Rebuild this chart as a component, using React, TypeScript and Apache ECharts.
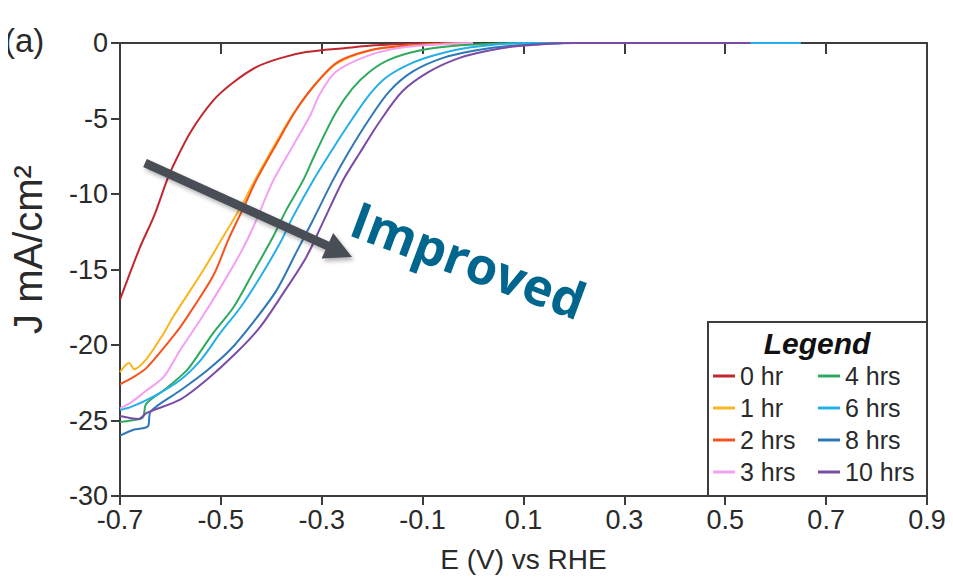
import React, { useEffect, useRef } from "react";
import * as echarts from "echarts";

const seriesNames = ["0 hr", "1 hr", "2 hrs", "3 hrs", "4 hrs", "6 hrs", "8 hrs", "10 hrs"];
const seriesColors = ["#c1272d", "#f9b51e", "#f4541f", "#f4a0f2", "#2eaa5e", "#25aee8", "#2f78b8", "#7a4ca5"];

const xTickMin = -0.7;
const xTickMax = 0.9;
const xTickStep = 0.2;
const yTickMin = -30;
const yTickMax = 0;
const yTickStep = 5;

const e0hr = [-0.70, -0.66, -0.633, -0.607, -0.597, -0.56, -0.515, -0.475, -0.43, -0.382, -0.331, -0.252, -0.193, -0.12, -0.05];
const j0hr = [-17.0, -13.5, -11.5, -9.1, -8.3, -5.9, -3.8, -2.6, -1.6, -1.0, -0.6, -0.33, -0.15, -0.05, 0];

const e1hr = [-0.70, -0.682, -0.672, -0.647, -0.613, -0.594, -0.534, -0.495, -0.461, -0.436, -0.396, -0.357, -0.317, -0.272, -0.205, -0.14, -0.06, 0.0];
const j1hr = [-21.8, -21.2, -21.6, -20.9, -19.2, -18.1, -15.0, -12.8, -10.9, -9.3, -6.9, -4.7, -2.9, -1.4, -0.5, -0.2, -0.05, 0];

const e2hrs = [-0.70, -0.672, -0.647, -0.594, -0.574, -0.515, -0.485, -0.455, -0.43, -0.39, -0.352, -0.312, -0.268, -0.2, -0.135, -0.06, 0.0];
const j2hrs = [-22.6, -22.1, -21.5, -19.4, -18.5, -15.4, -13.0, -10.9, -9.1, -6.7, -4.5, -2.7, -1.25, -0.45, -0.18, -0.05, 0];

const e3hrs = [-0.70, -0.678, -0.647, -0.613, -0.58, -0.54, -0.501, -0.461, -0.436, -0.396, -0.357, -0.323, -0.304, -0.272, -0.205, -0.14, -0.06, 0.0];
const j3hrs = [-24.2, -23.8, -23.0, -22.1, -20.3, -18.3, -16.2, -13.9, -12.2, -9.1, -6.8, -4.8, -3.4, -1.9, -0.8, -0.3, -0.08, 0];

const e4hrs = [-0.70, -0.678, -0.655, -0.648, -0.613, -0.568, -0.548, -0.515, -0.475, -0.436, -0.396, -0.371, -0.337, -0.311, -0.272, -0.239, -0.205, -0.166, -0.106, -0.041, 0.04, 0.13];
const j4hrs = [-25.1, -25.0, -24.8, -23.9, -23.0, -21.7, -20.8, -19.2, -17.5, -15.2, -12.8, -11.1, -9.1, -7.2, -4.6, -3.0, -1.9, -1.1, -0.5, -0.2, -0.05, 0];

const e6hrs = [-0.70, -0.678, -0.633, -0.58, -0.54, -0.501, -0.461, -0.422, -0.382, -0.357, -0.317, -0.278, -0.239, -0.205, -0.173, -0.126, -0.075, -0.008, 0.1, 0.3, 0.5, 0.65];
const j6hrs = [-24.3, -24.1, -23.4, -22.3, -21.0, -19.2, -17.5, -15.5, -13.2, -11.5, -9.1, -7.0, -5.0, -3.4, -2.3, -1.4, -0.8, -0.3, 0, 0, 0, 0];

const e8hrs = [-0.70, -0.672, -0.645, -0.639, -0.58, -0.528, -0.481, -0.436, -0.39, -0.351, -0.317, -0.278, -0.248, -0.205, -0.166, -0.12, -0.061, 0.004, 0.071, 0.18];
const j8hrs = [-26.0, -25.6, -25.4, -24.4, -23.0, -21.7, -20.3, -18.5, -16.4, -13.9, -11.7, -9.1, -7.3, -5.0, -3.2, -1.9, -1.0, -0.5, -0.2, 0];

const e10hrs = [-0.70, -0.663, -0.647, -0.58, -0.528, -0.469, -0.422, -0.377, -0.331, -0.298, -0.258, -0.225, -0.185, -0.14, -0.087, -0.028, 0.032, 0.091, 0.2, 0.35, 0.55];
const j10hrs = [-24.7, -24.9, -24.5, -23.6, -22.3, -20.5, -18.8, -16.6, -14.2, -11.9, -9.1, -7.3, -5.2, -3.2, -1.9, -1.0, -0.5, -0.2, 0, 0, 0];

const seriesE = [e0hr, e1hr, e2hrs, e3hrs, e4hrs, e6hrs, e8hrs, e10hrs];
const seriesJ = [j0hr, j1hr, j2hrs, j3hrs, j4hrs, j6hrs, j8hrs, j10hrs];

const AXIS_COLOR = "#3c3c3c";
const TEXT_COLOR = "#2a2a2a";
const FONT = "'Liberation Sans', Arial, sans-serif";

export default function App() {
  const ref = useRef<HTMLDivElement>(null);

  useEffect(() => {
    if (!ref.current) return;
    const chart = echarts.init(ref.current, undefined, { renderer: "svg" });

    const series = seriesNames.map((name, i) => ({
      name,
      type: "line",
      xAxisIndex: 0,
      yAxisIndex: 0,
      data: seriesE[i].map((e, k) => [e, seriesJ[i][k]]),
      showSymbol: false,
      smooth: 0.3,
      lineStyle: { color: seriesColors[i], width: 2 },
      itemStyle: { color: seriesColors[i] },
      z: 2 + i,
    }));

    const fmt = (v: number) => (Math.abs(v) < 1e-9 ? "0" : Number(v).toFixed(1));

    const legendCommon = {
      orient: "vertical",
      itemGap: 0,
      itemWidth: 22,
      itemHeight: 3,
      icon: "rect",
      padding: 0,
      selectedMode: false,
      textStyle: { fontSize: 25, lineHeight: 32, color: TEXT_COLOR, fontFamily: FONT },
      z: 10,
    };

    chart.setOption({
      animation: false,
      backgroundColor: "#ffffff",
      textStyle: { fontFamily: FONT },
      grid: { left: 116, top: 43, right: 26, bottom: 87, containLabel: false },
      xAxis: [
        {
          type: "value",
          min: xTickMin,
          max: xTickMax,
          interval: xTickStep,
          position: "bottom",
          name: "E (V) vs RHE",
          nameLocation: "middle",
          nameGap: 49,
          nameTextStyle: { fontSize: 28, color: TEXT_COLOR, fontFamily: FONT },
          axisLine: { show: true, onZero: false, lineStyle: { color: AXIS_COLOR, width: 2 } },
          axisTick: { show: true, inside: false, length: 9, lineStyle: { color: AXIS_COLOR, width: 2 } },
          axisLabel: { fontSize: 27, color: TEXT_COLOR, margin: 10, formatter: (v: number) => fmt(v) },
          splitLine: { show: false },
        },
        {
          type: "value",
          min: xTickMin,
          max: xTickMax,
          interval: xTickStep,
          position: "top",
          axisLine: { show: true, onZero: false, lineStyle: { color: AXIS_COLOR, width: 2 } },
          axisTick: { show: true, inside: true, length: 11, lineStyle: { color: AXIS_COLOR, width: 2 } },
          axisLabel: { show: false },
          splitLine: { show: false },
        },
      ],
      yAxis: [
        {
          type: "value",
          min: yTickMin,
          max: yTickMax,
          interval: yTickStep,
          position: "left",
          name: "J mA/cm²",
          nameLocation: "middle",
          nameGap: 72,
          nameTextStyle: { fontSize: 40, color: TEXT_COLOR, fontFamily: FONT, padding: [0, 0, 0, 40] },
          axisLine: { show: true, onZero: false, lineStyle: { color: AXIS_COLOR, width: 2 } },
          axisTick: { show: true, inside: false, length: 9, lineStyle: { color: AXIS_COLOR, width: 2 } },
          axisLabel: { fontSize: 27, color: TEXT_COLOR, margin: 12 },
          splitLine: { show: false },
        },
        {
          type: "value",
          min: yTickMin,
          max: yTickMax,
          interval: yTickStep,
          position: "right",
          axisLine: { show: true, onZero: false, lineStyle: { color: AXIS_COLOR, width: 2 } },
          axisTick: { show: false },
          axisLabel: { show: false },
          splitLine: { show: false },
        },
      ],
      legend: [
        { ...legendCommon, data: seriesNames.slice(0, 4), left: 713, top: 360 },
        { ...legendCommon, data: seriesNames.slice(4), left: 818, top: 360 },
      ],
      graphic: [
        {
          type: "rect",
          shape: { x: 708, y: 322, width: 219, height: 174 },
          style: { fill: "#ffffff", stroke: AXIS_COLOR, lineWidth: 2 },
          z: 5,
        },
        {
          type: "text",
          x: 817,
          y: 343,
          style: {
            text: "Legend",
            font: `italic bold 30px ${FONT}`,
            fill: "#111111",
            align: "center",
            verticalAlign: "middle",
          },
          z: 6,
        },
        {
          type: "text",
          x: 4,
          y: 40,
          style: {
            text: "(a)",
            font: `33px ${FONT}`,
            fill: TEXT_COLOR,
            align: "left",
            verticalAlign: "middle",
          },
        },
        {
          type: "line",
          shape: { x1: 145, y1: 163, x2: 328, y2: 246 },
          style: {
            stroke: "#4a4e56",
            lineWidth: 9,
            shadowBlur: 4,
            shadowColor: "rgba(0,0,0,0.3)",
            shadowOffsetX: 2,
            shadowOffsetY: 3,
          },
          z: 20,
        },
        {
          type: "polygon",
          shape: { points: [[352, 257], [333.2, 233.1], [321.6, 258.5]] },
          style: {
            fill: "#4a4e56",
            shadowBlur: 4,
            shadowColor: "rgba(0,0,0,0.3)",
            shadowOffsetX: 2,
            shadowOffsetY: 3,
          },
          z: 20,
        },
        {
          type: "text",
          x: 469,
          y: 259,
          rotation: -0.358,
          style: {
            text: "Improved",
            font: "bold 51px 'Open Sans', sans-serif",
            fill: "#00668e",
            align: "center",
            verticalAlign: "middle",
          },
          z: 20,
        },
      ],
      series,
    });

    return () => chart.dispose();
  }, []);

  return <div ref={ref} style={{ width: 953, height: 583, margin: -8 }} />;
}
